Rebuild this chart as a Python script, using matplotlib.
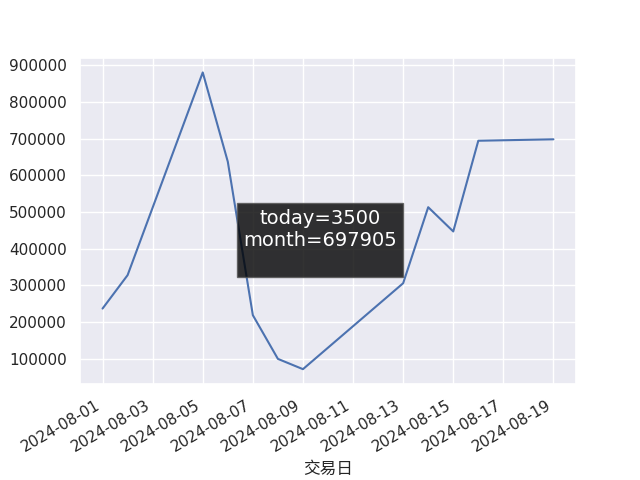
import numpy as np
import pandas as pd
import seaborn as sns
import matplotlib
matplotlib.use("Agg")
from matplotlib import pyplot as plt
import matplotlib.dates as mdates

sns.set_theme()
plt.rcParams['font.family'] = ['DejaVu Sans', 'Noto Sans CJK SC']

# daily totals
dates = ["2024-08-01", "2024-08-02", "2024-08-05", "2024-08-06", "2024-08-07",
         "2024-08-08", "2024-08-09", "2024-08-13", "2024-08-14", "2024-08-15",
         "2024-08-16", "2024-08-19"]
values = [237000, 328000, 880000, 637000, 219000,
          100000, 72000, 306000, 513000, 447000,
          694000, 697905]
today_val = 3500
month_val = 697905

x = pd.to_datetime(dates)

fig, ax = plt.subplots(figsize=(6.4, 4.8), dpi=100)
ax.plot(x, values)
ax.xaxis.set_major_locator(mdates.DayLocator(bymonthday=range(1, 32, 2)))
ax.xaxis.set_major_formatter(mdates.DateFormatter('%Y-%m-%d'))
ax.set_xlabel("交易日")
fig.autofmt_xdate()

fig.text(0.5, 0.5, "today={}\nmonth={}\n".format(today_val, month_val),
         ha='center', va='center', fontsize=14, color='white',
         bbox=dict(boxstyle='square,pad=0.3', facecolor='black', alpha=0.8,
                   edgecolor='#555555'))

fig.savefig("out.png")
